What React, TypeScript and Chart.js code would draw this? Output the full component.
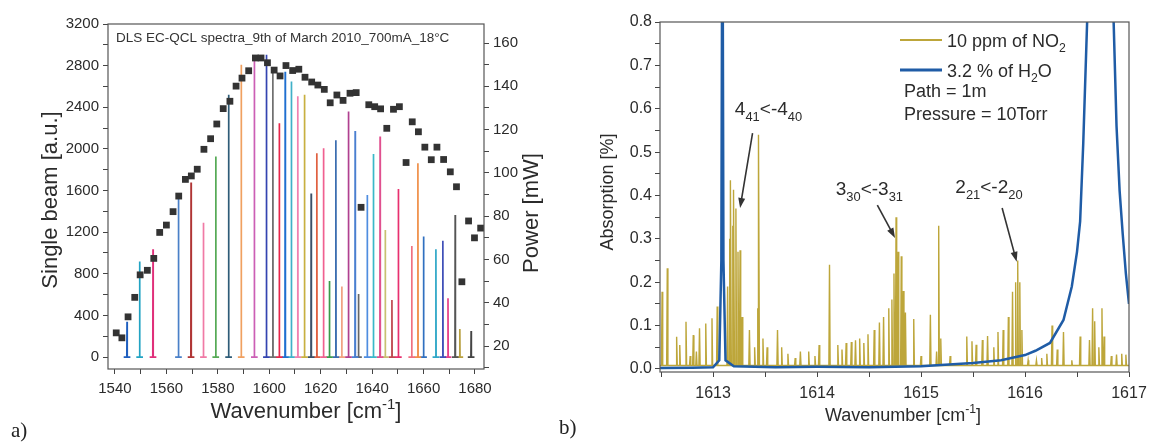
import React, { useEffect, useRef } from 'react';
import { Chart, registerables } from 'chart.js';
Chart.register(...registerables);

const FONT = '"Liberation Sans", Arial, sans-serif';
const TXT = '#2b2b2b';

// ---------- Panel a data ----------
const aLineCenters = [1544.7, 1549.6, 1554.8, 1564.7, 1569.6, 1574.4, 1579.2, 1584.2, 1589.1, 1594.2, 1598.9, 1601.4, 1603.9, 1606.2, 1608.6, 1611.1, 1613.7, 1616.3, 1618.5, 1621.1, 1623.4, 1625.9, 1628.2, 1630.8, 1633.4, 1634.7, 1638.1, 1640.5, 1643.1, 1645.1, 1647.7, 1650.2, 1655.4, 1657.8, 1660.0, 1664.8, 1667.5, 1669.5, 1672.3, 1674.1, 1678.5];
const aLineHeights = [339, 917, 1035, 1538, 1676, 1290, 1926, 2520, 2808, 2880, 2904, 2770, 2247, 2742, 2647, 2505, 2519, 1572, 1959, 2007, 731, 2082, 678, 2359, 2173, 606, 1558, 1952, 2118, 1221, 548, 1615, 1067, 1862, 1159, 1035, 1118, 564, 1365, 269, 250];
const aLineColors = ['#1f5fbf', '#22a3c3', '#e0307a', '#4a80c8', '#b03535', '#f07aa5', '#55aa55', '#2e5c78', '#f0a060', '#cc5fb5', '#3344b0', '#707070', '#e8254a', '#1f6fd0', '#40b0c8', '#f080b0', '#c8b040', '#3b5068', '#e06040', '#f06090', '#3a9a4a', '#3b6db0', '#f0a080', '#b04090', '#4a7fd0', '#666666', '#4f8de0', '#3ab8c8', '#e0508f', '#c8c070', '#c04850', '#e8306f', '#f07080', '#f0904a', '#3070c0', '#30a8c8', '#4050b8', '#e8408a', '#555555', '#b8a040', '#444444'];
const aPowerX = [1540.5, 1542.7, 1545.1, 1547.7, 1549.8, 1552.6, 1555.1, 1557.4, 1560.0, 1562.6, 1564.8, 1567.4, 1569.7, 1572.0, 1574.6, 1577.2, 1579.6, 1582.1, 1584.7, 1587.1, 1589.4, 1592.0, 1594.6, 1596.8, 1599.3, 1601.9, 1604.2, 1606.5, 1609.1, 1611.5, 1613.9, 1616.5, 1618.9, 1621.4, 1623.7, 1626.3, 1628.7, 1631.4, 1633.8, 1635.7, 1638.7, 1641.0, 1643.3, 1645.7, 1648.3, 1650.6, 1653.2, 1655.6, 1658.0, 1660.5, 1663.0, 1665.2, 1667.8, 1670.4, 1672.8, 1674.9, 1677.5, 1679.8, 1682.2];
const aPowerY = [26.1, 23.8, 33.5, 42.5, 52.9, 55.0, 60.5, 72.5, 75.9, 82.1, 89.3, 97.0, 98.6, 101.7, 110.9, 115.8, 122.6, 129.7, 133.1, 140.1, 143.8, 147.2, 153.1, 153.1, 150.9, 147.5, 144.8, 149.6, 147.3, 147.9, 144.2, 142.0, 140.6, 138.6, 132.4, 136.0, 133.5, 136.8, 137.1, 84.1, 131.5, 130.6, 129.6, 120.6, 129.4, 130.6, 104.8, 123.6, 119.0, 111.9, 106.1, 111.9, 106.2, 100.5, 93.6, 49.7, 77.8, 70.0, 74.5];
const aXTicks = [1540, 1550, 1560, 1570, 1580, 1590, 1600, 1610, 1620, 1630, 1640, 1650, 1660, 1670, 1680];
const aXLabels = [1540, 1560, 1580, 1600, 1620, 1640, 1660, 1680];
const aYTicks = [0, 200, 400, 600, 800, 1000, 1200, 1400, 1600, 1800, 2000, 2200, 2400, 2600, 2800, 3000, 3200];
const aYLabels = [0, 400, 800, 1200, 1600, 2000, 2400, 2800, 3200];
const aPTicks = [10, 20, 30, 40, 50, 60, 70, 80, 90, 100, 110, 120, 130, 140, 150, 160];
const aPLabels = [20, 40, 60, 80, 100, 120, 140, 160];

// ---------- Panel b data ----------
const bNo2X = [1612.51, 1612.56, 1612.65, 1612.68, 1612.74, 1612.78, 1612.81, 1612.84, 1612.87, 1612.93, 1612.99, 1613.04, 1613.14, 1613.16, 1613.17, 1613.19, 1613.20, 1613.22, 1613.24, 1613.26, 1613.28, 1613.35, 1613.40, 1613.43, 1613.44, 1613.48, 1613.52, 1613.62, 1613.66, 1613.72, 1613.79, 1613.84, 1613.92, 1613.98, 1614.02, 1614.12, 1614.20, 1614.24, 1614.28, 1614.33, 1614.37, 1614.41, 1614.45, 1614.49, 1614.55, 1614.60, 1614.64, 1614.69, 1614.72, 1614.74, 1614.76, 1614.78, 1614.81, 1614.83, 1614.85, 1614.93, 1615.00, 1615.09, 1615.15, 1615.17, 1615.19, 1615.28, 1615.44, 1615.49, 1615.53, 1615.59, 1615.64, 1615.70, 1615.74, 1615.79, 1615.84, 1615.88, 1615.91, 1615.93, 1615.95, 1615.97, 1616.03, 1616.11, 1616.16, 1616.21, 1616.26, 1616.31, 1616.37, 1616.45, 1616.53, 1616.62, 1616.65, 1616.67, 1616.71, 1616.74, 1616.76, 1616.83, 1616.88, 1616.93, 1616.97];
const bNo2Y = [0.178, 0.232, 0.074, 0.055, 0.109, 0.03, 0.078, 0.04, 0.094, 0.105, 0.117, 0.144, 0.19, 0.30, 0.435, 0.33, 0.413, 0.37, 0.27, 0.274, 0.12, 0.09, 0.05, 0.14, 0.54, 0.07, 0.05, 0.09, 0.05, 0.035, 0.025, 0.04, 0.04, 0.03, 0.055, 0.24, 0.055, 0.045, 0.06, 0.062, 0.066, 0.07, 0.06, 0.08, 0.09, 0.107, 0.12, 0.14, 0.16, 0.22, 0.35, 0.27, 0.26, 0.18, 0.13, 0.115, 0.03, 0.125, 0.04, 0.33, 0.07, 0.03, 0.075, 0.064, 0.056, 0.067, 0.076, 0.05, 0.085, 0.09, 0.12, 0.178, 0.2, 0.25, 0.2, 0.09, 0.02, 0.02, 0.025, 0.035, 0.1, 0.045, 0.085, 0.02, 0.075, 0.067, 0.14, 0.11, 0.05, 0.14, 0.075, 0.03, 0.033, 0.035, 0.033];
const bNo2Base = 0.008;
const bH2oX = [1612.49, 1612.8, 1613.0, 1613.06, 1613.08, 1613.09, 1613.10, 1613.12, 1613.2, 1613.6, 1614.0, 1614.5, 1615.0, 1615.5, 1615.77, 1616.0, 1616.1, 1616.24, 1616.37, 1616.45, 1616.5, 1616.53, 1616.56, 1616.6, 1616.63, 1616.82, 1616.85, 1616.88, 1616.91, 1616.94, 1616.97, 1617.0];
const bH2oY = [0.002, 0.003, 0.004, 0.02, 0.25, 1.2, 0.25, 0.02, 0.006, 0.004, 0.005, 0.004, 0.006, 0.014, 0.02, 0.032, 0.042, 0.06, 0.113, 0.19, 0.27, 0.34, 0.52, 0.82, 1.2, 1.2, 0.82, 0.56, 0.41, 0.31, 0.22, 0.15];
const bXTicks = [1612.5, 1613, 1613.5, 1614, 1614.5, 1615, 1615.5, 1616, 1616.5, 1617];
const bXLabels = [1613, 1614, 1615, 1616, 1617];
const bYTicks = [0, 0.05, 0.1, 0.15, 0.2, 0.25, 0.3, 0.35, 0.4, 0.45, 0.5, 0.55, 0.6, 0.65, 0.7, 0.75, 0.8];
const bYLabels = [0, 0.1, 0.2, 0.3, 0.4, 0.5, 0.6, 0.7, 0.8];

type Seg = { t: string; k?: 'sub' | 'sup' };

function drawRich(ctx: CanvasRenderingContext2D, segs: Seg[], x: number, y: number, size: number, align: 'left' | 'center', color = TXT, subScale = 0.68) {
  const small = size * subScale;
  const widths = segs.map((s) => {
    ctx.font = `${s.k ? small : size}px ${FONT}`;
    return ctx.measureText(s.t).width;
  });
  const total = widths.reduce((a, b) => a + b, 0);
  let cx = align === 'center' ? x - total / 2 : x;
  ctx.fillStyle = color;
  ctx.textAlign = 'left';
  ctx.textBaseline = 'alphabetic';
  segs.forEach((s, i) => {
    ctx.font = `${s.k ? small : size}px ${FONT}`;
    const dy = s.k === 'sub' ? size * 0.3 : s.k === 'sup' ? -size * 0.42 : 0;
    ctx.fillText(s.t, cx, y + dy);
    cx += widths[i];
  });
}

function drawRotated(ctx: CanvasRenderingContext2D, segs: Seg[], cx: number, cy: number, size: number) {
  ctx.save();
  ctx.translate(cx, cy);
  ctx.rotate(-Math.PI / 2);
  drawRich(ctx, segs, 0, size * 0.35, size, 'center');
  ctx.restore();
}

function drawArrow(ctx: CanvasRenderingContext2D, x1: number, y1: number, x2: number, y2: number) {
  const ang = Math.atan2(y2 - y1, x2 - x1);
  const hl = 10, hw = 3.5;
  ctx.save();
  ctx.strokeStyle = '#333';
  ctx.fillStyle = '#333';
  ctx.lineWidth = 1.6;
  ctx.beginPath();
  ctx.moveTo(x1, y1);
  ctx.lineTo(x2 - Math.cos(ang) * hl * 0.8, y2 - Math.sin(ang) * hl * 0.8);
  ctx.stroke();
  ctx.beginPath();
  ctx.moveTo(x2, y2);
  ctx.lineTo(x2 - Math.cos(ang) * hl - Math.sin(ang) * hw, y2 - Math.sin(ang) * hl + Math.cos(ang) * hw);
  ctx.lineTo(x2 - Math.cos(ang) * hl + Math.sin(ang) * hw, y2 - Math.sin(ang) * hl - Math.cos(ang) * hw);
  ctx.closePath();
  ctx.fill();
  ctx.restore();
}

function axisBase(size: number, tickLength: number, padding: number) {
  return {
    grid: { display: true, drawOnChartArea: false, drawTicks: true, tickLength, color: '#444', lineWidth: 1 },
    border: { display: false },
    ticks: { font: { family: FONT, size }, color: TXT, autoSkip: false, maxRotation: 0, minRotation: 0, padding },
  };
}

const framePlugin = {
  id: 'frame',
  afterDatasetsDraw(chart: any) {
    const { ctx, chartArea: a } = chart;
    ctx.save();
    ctx.strokeStyle = '#555';
    ctx.lineWidth = 1.2;
    ctx.strokeRect(a.left, a.top, a.right - a.left, a.bottom - a.top);
    ctx.restore();
  },
};

function configA(): any {
  const spectra = aLineCenters.map((c, i) => ({
    type: 'line',
    data: [
      { x: c - 1.3, y: 0 },
      { x: c - 0.08, y: 0 },
      { x: c, y: aLineHeights[i] },
      { x: c + 0.08, y: 0 },
      { x: c + 1.3, y: 0 },
    ],
    borderColor: aLineColors[i],
    borderWidth: 1.7,
    pointRadius: 0,
    tension: 0,
    yAxisID: 'y',
  }));
  const power = {
    type: 'scatter',
    data: aPowerX.map((x, i) => ({ x, y: aPowerY[i] })),
    pointStyle: 'rect',
    pointRadius: 4.8,
    backgroundColor: '#333',
    borderColor: '#333',
    borderWidth: 0,
    yAxisID: 'y2',
  };
  const textPlugin = {
    id: 'textA',
    afterDraw(chart: any) {
      const ctx = chart.ctx as CanvasRenderingContext2D;
      ctx.save();
      ctx.font = `13.5px ${FONT}`;
      ctx.fillStyle = '#333';
      ctx.textAlign = 'left';
      ctx.textBaseline = 'middle';
      ctx.fillText('DLS EC-QCL spectra_9th of March 2010_700mA_18°C', 116, 38);
      drawRotated(ctx, [{ t: 'Single beam [a.u.]' }], 49, 200, 22);
      drawRotated(ctx, [{ t: 'Power [mW]' }], 530, 213, 22);
      drawRich(ctx, [{ t: 'Wavenumber [cm' }, { t: '-1', k: 'sup' }, { t: ']' }], 306, 418, 22, 'center');
      ctx.restore();
    },
  };
  return {
    type: 'scatter',
    data: { datasets: [power, ...spectra] },
    options: {
      responsive: false,
      animation: false,
      events: [],
      layout: { padding: { top: 24, left: 0, right: 0, bottom: 0 } },
      plugins: { legend: { display: false }, tooltip: { enabled: false } },
      scales: {
        x: {
          type: 'linear', position: 'bottom', min: 1537.3, max: 1683.5,
          ...axisBase(15, 5, 6),
          afterBuildTicks: (s: any) => { s.ticks = aXTicks.map((v) => ({ value: v })); },
          afterFit: (s: any) => { s.height = 76; },
          ticks: { ...axisBase(15, 5, 6).ticks, callback: (v: number) => (aXLabels.includes(v) ? String(v) : '') },
        },
        y: {
          type: 'linear', position: 'left', min: -115, max: 3200,
          ...axisBase(15, 5, 4),
          afterBuildTicks: (s: any) => { s.ticks = aYTicks.map((v) => ({ value: v })); },
          afterFit: (s: any) => { s.width = 108; },
          ticks: { ...axisBase(15, 5, 4).ticks, callback: (v: number) => (aYLabels.includes(v) ? String(v) : '') },
        },
        y2: {
          type: 'linear', position: 'right', min: 9.4, max: 168.8,
          ...axisBase(15, 5, 4),
          afterBuildTicks: (s: any) => { s.ticks = aPTicks.map((v) => ({ value: v })); },
          afterFit: (s: any) => { s.width = 76; },
          ticks: { ...axisBase(15, 5, 4).ticks, callback: (v: number) => (aPLabels.includes(v) ? String(v) : '') },
        },
      },
    },
    plugins: [framePlugin, textPlugin],
  };
}

function configB(): any {
  const no2: { x: number; y: number }[] = [{ x: 1612.49, y: bNo2Base }];
  bNo2X.forEach((x, i) => {
    no2.push({ x: x - 0.006, y: bNo2Base });
    no2.push({ x, y: bNo2Y[i] });
    no2.push({ x: x + 0.006, y: bNo2Base });
  });
  no2.push({ x: 1617, y: bNo2Base });
  const OX = 560;
  const textPlugin = {
    id: 'textB',
    afterDraw(chart: any) {
      const ctx = chart.ctx as CanvasRenderingContext2D;
      const xs = chart.scales.x, ys = chart.scales.y;
      const px = (v: number) => xs.getPixelForValue(v);
      const py = (v: number) => ys.getPixelForValue(v);
      ctx.save();
      drawRotated(ctx, [{ t: 'Absorption [%]' }], 607 - OX, 192, 18);
      drawRich(ctx, [{ t: 'Wavenumber [cm' }, { t: '-1', k: 'sup' }, { t: ']' }], 903 - OX, 421, 18, 'center');
      ctx.lineWidth = 2;
      ctx.strokeStyle = '#bda63a';
      ctx.beginPath(); ctx.moveTo(900 - OX, 40); ctx.lineTo(942 - OX, 40); ctx.stroke();
      ctx.lineWidth = 3;
      ctx.strokeStyle = '#1f5ca6';
      ctx.beginPath(); ctx.moveTo(900 - OX, 70); ctx.lineTo(942 - OX, 70); ctx.stroke();
      drawRich(ctx, [{ t: '10 ppm of NO' }, { t: '2', k: 'sub' }], 947 - OX, 46.5, 18, 'left');
      drawRich(ctx, [{ t: '3.2 % of H' }, { t: '2', k: 'sub' }, { t: 'O' }], 947 - OX, 76.5, 18, 'left');
      drawRich(ctx, [{ t: 'Path = 1m' }], 904 - OX, 97, 18, 'left');
      drawRich(ctx, [{ t: 'Pressure = 10Torr' }], 904 - OX, 120, 18, 'left');
      drawRich(ctx, [{ t: '4' }, { t: '41', k: 'sub' }, { t: '<-4' }, { t: '40', k: 'sub' }], px(1613.21), py(0.586), 19, 'left');
      drawArrow(ctx, px(1613.38), py(0.544), px(1613.26), py(0.371));
      drawRich(ctx, [{ t: '3' }, { t: '30', k: 'sub' }, { t: '<-3' }, { t: '31', k: 'sub' }], px(1614.18), py(0.401), 19, 'left');
      drawArrow(ctx, px(1614.58), py(0.378), px(1614.75), py(0.302));
      drawRich(ctx, [{ t: '2' }, { t: '21', k: 'sub' }, { t: '<-2' }, { t: '20', k: 'sub' }], px(1615.33), py(0.406), 19, 'left');
      drawArrow(ctx, px(1615.78), py(0.371), px(1615.92), py(0.247));
      ctx.restore();
    },
  };
  return {
    type: 'scatter',
    data: {
      datasets: [
        { type: 'line', data: bH2oX.map((x, i) => ({ x, y: bH2oY[i] })), borderColor: '#1f5ca6', borderWidth: 2.5, pointRadius: 0, tension: 0, clip: 0 },
        { type: 'line', data: no2, borderColor: '#bda63a', borderWidth: 1.4, pointRadius: 0, tension: 0, clip: 0 },
      ],
    },
    options: {
      responsive: false,
      animation: false,
      events: [],
      layout: { padding: { top: 22, left: 0, right: 30, bottom: 0 } },
      plugins: { legend: { display: false }, tooltip: { enabled: false } },
      scales: {
        x: {
          type: 'linear', position: 'bottom', min: 1612.49, max: 1617,
          ...axisBase(16, 5, 7),
          afterBuildTicks: (s: any) => { s.ticks = bXTicks.map((v) => ({ value: v })); },
          afterFit: (s: any) => { s.height = 73; },
          ticks: { ...axisBase(16, 5, 7).ticks, callback: (v: number) => (bXLabels.includes(v) ? String(v) : '') },
        },
        y: {
          type: 'linear', position: 'left', min: -0.007, max: 0.8,
          ...axisBase(16, 5, 3),
          afterBuildTicks: (s: any) => { s.ticks = bYTicks.map((v) => ({ value: v })); },
          afterFit: (s: any) => { s.width = 100; },
          ticks: { ...axisBase(16, 5, 3).ticks, callback: (v: number) => (bYLabels.some((l) => Math.abs(l - v) < 1e-9) ? v.toFixed(1) : '') },
        },
      },
    },
    plugins: [framePlugin, textPlugin],
  };
}

export default function App() {
  const refA = useRef<HTMLCanvasElement>(null);
  const refB = useRef<HTMLCanvasElement>(null);
  useEffect(() => {
    const ca = new Chart(refA.current!, configA());
    const cb = new Chart(refB.current!, configB());
    return () => {
      ca.destroy();
      cb.destroy();
    };
  }, []);
  return (
    <div style={{ position: 'fixed', left: 0, top: 0, width: 1159, height: 445, background: '#fff', overflow: 'hidden' }}>
      <canvas ref={refA} width={560} height={445} style={{ position: 'absolute', left: 0, top: 0 }} />
      <canvas ref={refB} width={599} height={445} style={{ position: 'absolute', left: 560, top: 0 }} />
      <div style={{ position: 'absolute', left: 11, top: 418, font: '21px "Liberation Serif", serif', color: '#222' }}>a)</div>
      <div style={{ position: 'absolute', left: 559, top: 415, font: '21px "Liberation Serif", serif', color: '#222' }}>b)</div>
    </div>
  );
}
